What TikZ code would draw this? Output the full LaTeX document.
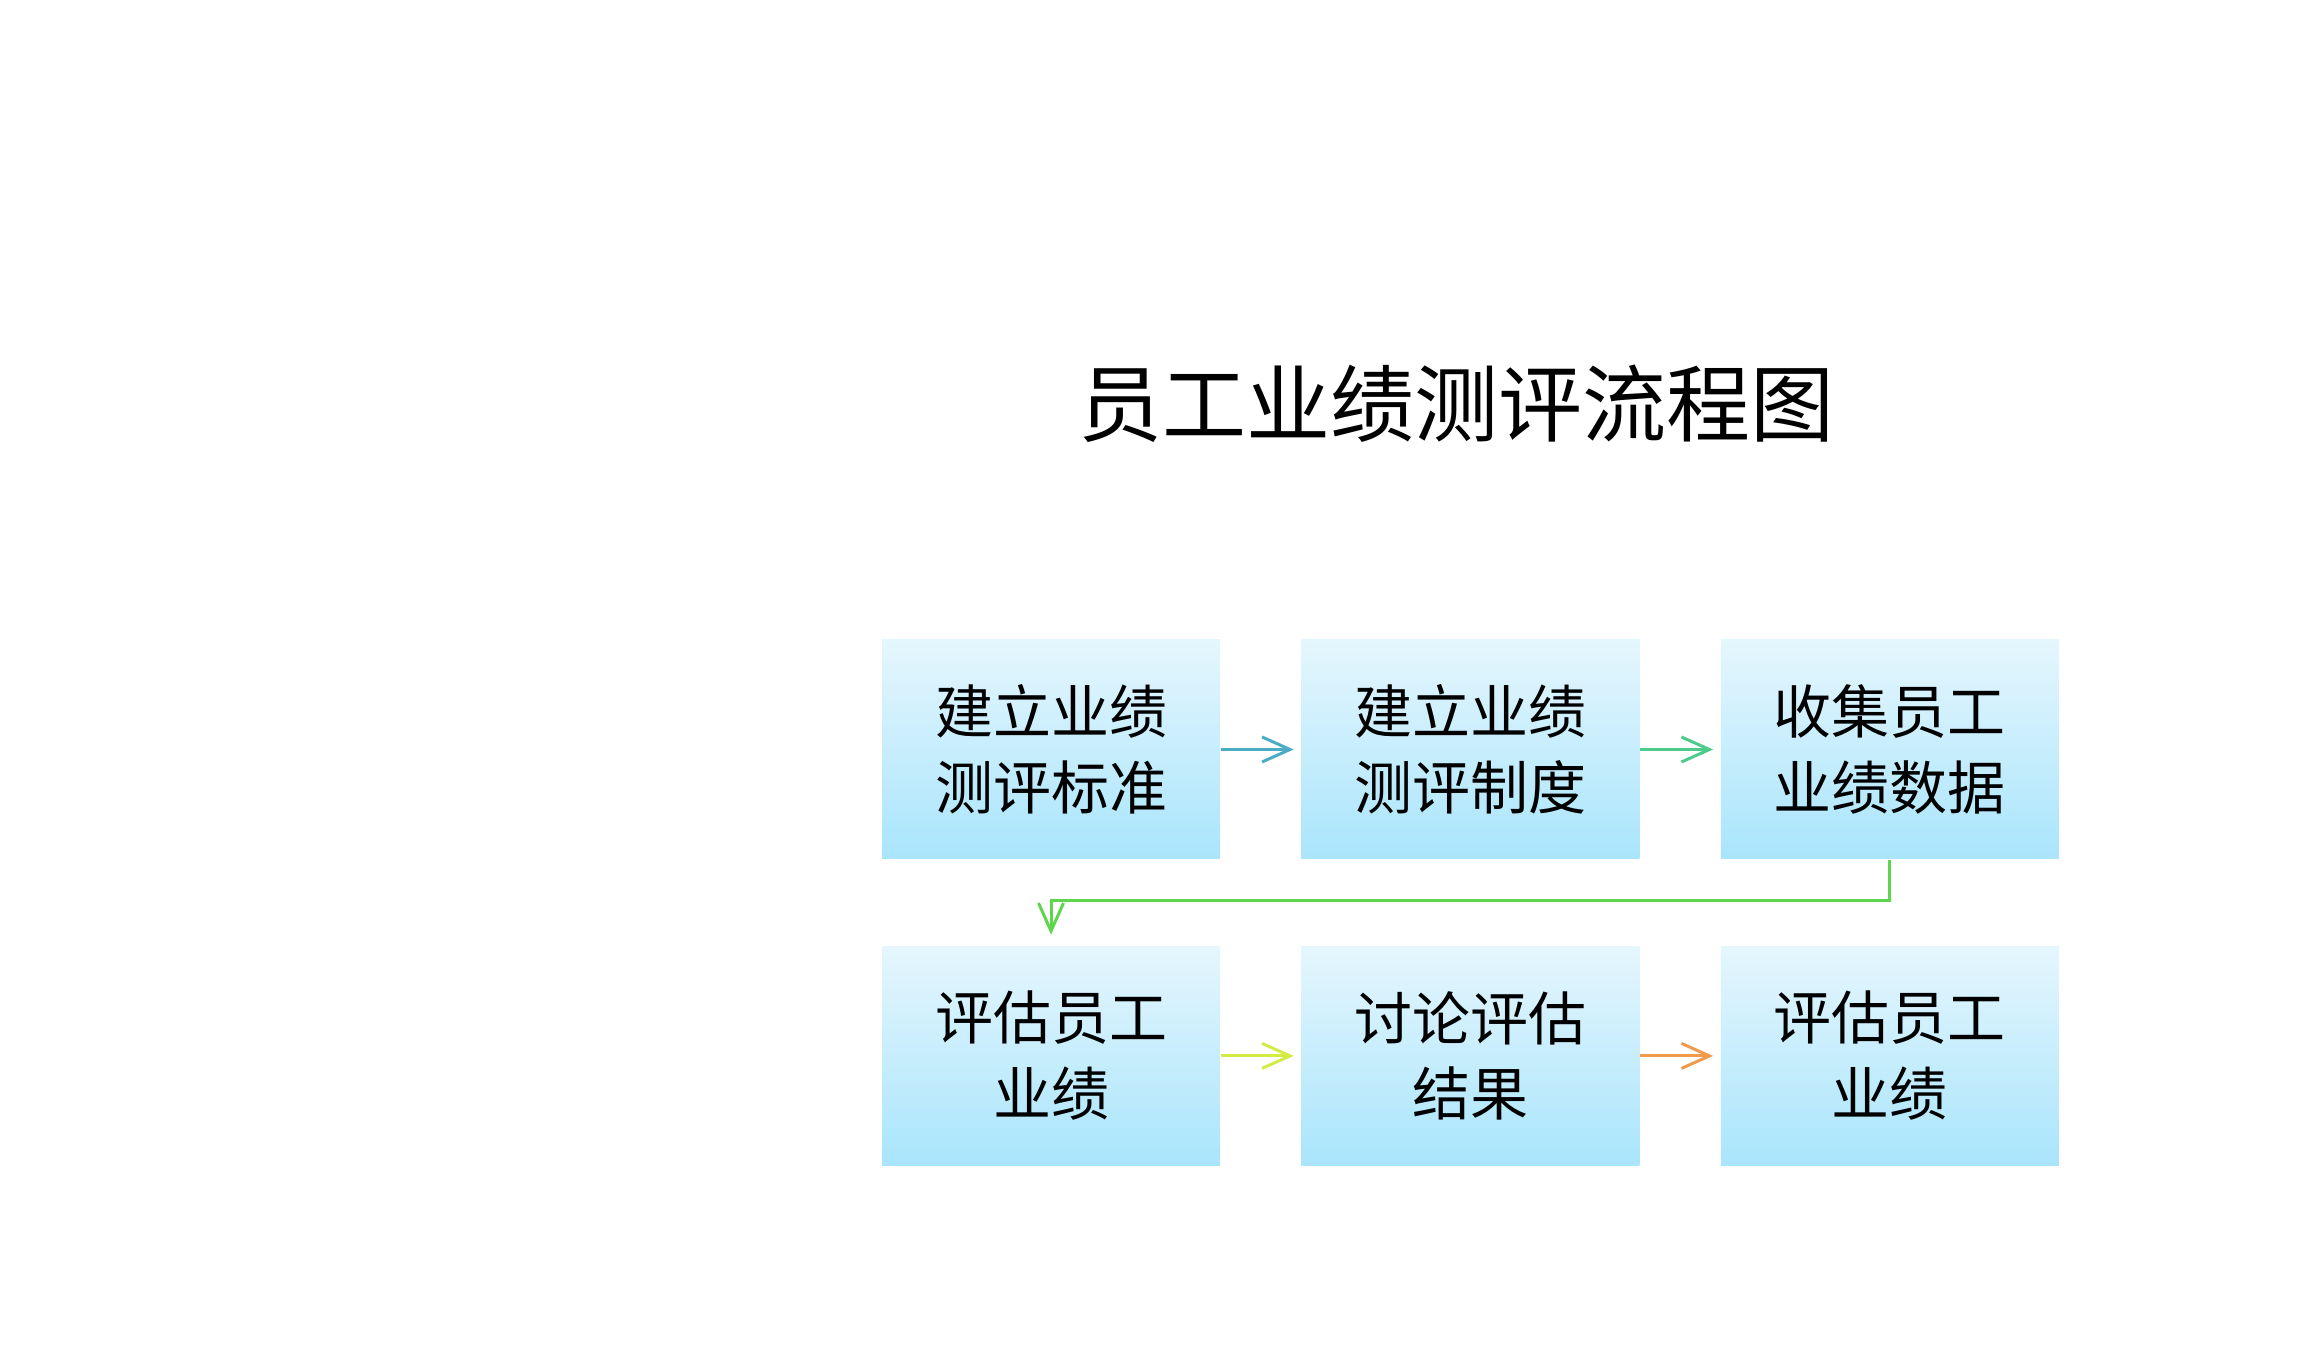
\documentclass[tikz,border=0pt]{standalone}
\usepackage{fontspec}
\setmainfont{Noto Sans CJK SC}
\usepackage{tikz}
\usetikzlibrary{arrows.meta, positioning}
\definecolor{boxtop}{RGB}{229,246,253}
\definecolor{boxbot}{RGB}{169,229,252}
\definecolor{arrteal}{RGB}{75,172,198}
\definecolor{arrmint}{RGB}{76,203,138}
\definecolor{arrgreen}{RGB}{92,214,74}
\definecolor{arrlime}{RGB}{212,235,69}
\definecolor{arrorange}{RGB}{240,154,74}
\begin{document}
\begin{tikzpicture}[
  stepbox/.style={minimum width=3.38cm, minimum height=2.19cm, inner sep=0pt,
    top color=boxtop, bottom color=boxbot, align=center,
    font=\fontsize{16.5pt}{21.6pt}\selectfont},
  flow/.style={line width=0.85pt, -{Straight Barb[length=0.28cm, width=0.25cm, line width=0.85pt]}, shorten >=0.07cm},
  node distance=0.8cm and 0.8cm
]
  \useasboundingbox (0,0) rectangle (23.04,13.63);
  \node[font=\fontsize{23.9pt}{28pt}\selectfont] (title) at (14.56,9.59) {员工业绩测评流程图};
  \node[stepbox] (b1) at (10.51,6.135) {建立业绩\\测评标准};
  \node[stepbox, right=of b1] (b2) {建立业绩\\测评制度};
  \node[stepbox, right=of b2] (b3) {收集员工\\业绩数据};
  \node[stepbox, below=0.86cm of b1] (b4) {评估员工\\业绩};
  \node[stepbox, right=of b4] (b5) {讨论评估\\结果};
  \node[stepbox, right=of b5] (b6) {评估员工\\业绩};
  \draw[flow, arrteal] (b1) -- (b2);
  \draw[flow, arrmint] (b2) -- (b3);
  \draw[flow, arrgreen, shorten >=0.11cm] (b3.south) -- ++(0,-0.41) -| (b4.north);
  \draw[flow, arrlime] (b4) -- (b5);
  \draw[flow, arrorange] (b5) -- (b6);
\end{tikzpicture}
\end{document}
